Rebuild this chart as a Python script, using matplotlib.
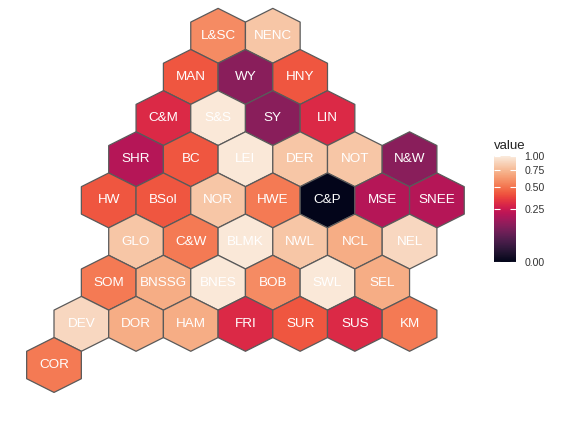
import numpy as np
import matplotlib
matplotlib.use("Agg")
import matplotlib.pyplot as plt
from matplotlib.collections import PolyCollection
from matplotlib.colors import PowerNorm
import seaborn as sns

plt.rcParams['font.family'] = ['Liberation Sans', 'DejaVu Sans']

# ---- data ----
names = ["L&SC", "NENC",
         "MAN", "WY", "HNY",
         "C&M", "S&S", "SY", "LIN",
         "SHR", "BC", "LEI", "DER", "NOT", "N&W",
         "HW", "BSol", "NOR", "HWE", "C&P", "MSE", "SNEE",
         "GLO", "C&W", "BLMK", "NWL", "NCL", "NEL",
         "SOM", "BNSSG", "BNES", "BOB", "SWL", "SEL",
         "DEV", "DOR", "HAM", "FRI", "SUR", "SUS", "KM",
         "COR"]
hex_col = [6, 8,
           5, 7, 9,
           4, 6, 8, 10,
           3, 5, 7, 9, 11, 13,
           2, 4, 6, 8, 10, 12, 14,
           3, 5, 7, 9, 11, 13,
           2, 4, 6, 8, 10, 12,
           1, 3, 5, 7, 9, 11, 13,
           0]
hex_row = [8, 8,
           7, 7, 7,
           6, 6, 6, 6,
           5, 5, 5, 5, 5, 5,
           4, 4, 4, 4, 4, 4, 4,
           3, 3, 3, 3, 3, 3,
           2, 2, 2, 2, 2, 2,
           1, 1, 1, 1, 1, 1, 1,
           0]
values = [0.58, 0.81,
          0.42, 0.12, 0.42,
          0.30, 0.98, 0.12, 0.30,
          0.20, 0.42, 0.98, 0.81, 0.81, 0.12,
          0.42, 0.42, 0.81, 0.52, 0.00, 0.20, 0.20,
          0.81, 0.52, 0.98, 0.81, 0.70, 0.90,
          0.52, 0.70, 0.98, 0.58, 0.98, 0.70,
          0.90, 0.70, 0.70, 0.30, 0.42, 0.30, 0.52,
          0.52]

# ---- geometry ----
HALF_W = 1.0
RAD_Y = 2.0 / 3.0
offs = np.array([(0, RAD_Y), (HALF_W, RAD_Y / 2), (HALF_W, -RAD_Y / 2),
                 (0, -RAD_Y), (-HALF_W, -RAD_Y / 2), (-HALF_W, RAD_Y / 2)])
verts = [offs + np.array([c, r]) for c, r in zip(hex_col, hex_row)]

W, H = 561, 422
fig = plt.figure(figsize=(W / 100, H / 100), dpi=100)

# pixel mapping: x_px = 54 + 27.35*col ; y_px = 365 - 41.15*row
px_l, px_r, py_t, py_b = 20, 470, 5, 415
ax = fig.add_axes([px_l / W, (H - py_b) / H, (px_r - px_l) / W, (py_b - py_t) / H])
ax.set_xlim((px_l - 54) / 27.35, (px_r - 54) / 27.35)
ax.set_ylim((365 - py_b) / 41.15, (365 - py_t) / 41.15)
ax.axis('off')

cmap = sns.color_palette("rocket", as_cmap=True)
norm = PowerNorm(gamma=0.5, vmin=0, vmax=1)
coll = PolyCollection(verts, array=np.array(values), cmap=cmap, norm=norm,
                      edgecolors='#5a5a5a', linewidths=0.9)
ax.add_collection(coll)

for n, c, r in zip(names, hex_col, hex_row):
    ax.text(c, r, n, ha='center', va='center', color='white', fontsize=9.7)

# colorbar
cax = fig.add_axes([494 / W, (H - 262) / H, 22 / W, 106 / H])
cb = fig.colorbar(coll, cax=cax)
cb.set_ticks([0, 0.25, 0.5, 0.75, 1.0])
cb.set_ticklabels(["0.00", "0.25", "0.50", "0.75", "1.00"])
cb.outline.set_visible(False)
cax.tick_params(axis='y', direction='in', colors='white', length=4, width=0.8,
                left=True, right=True, labelsize=7.6, labelcolor='#333333', pad=6)
cax.set_title("value", loc='left', fontsize=9.5, color='#222222', pad=5)

fig.savefig("out.png", dpi=100, facecolor='white')
